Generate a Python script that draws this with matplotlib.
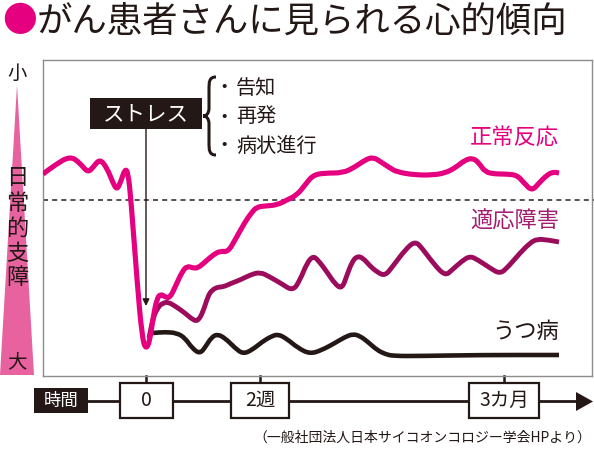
import matplotlib
matplotlib.use("Agg")
import matplotlib.pyplot as plt
from matplotlib.patches import Rectangle, Polygon, PathPatch
from matplotlib.path import Path

plt.rcParams['font.family'] = ['Noto Sans CJK JP', 'DejaVu Sans']

# schematic time position (x) and degree of daily impairment (y, larger = worse)
normal_x = [43, 55, 70, 80, 88, 94, 100, 107, 113, 117, 121, 125, 128, 131, 137, 142, 146,
            150, 153, 157, 161, 165, 170, 176, 182, 187, 193, 198, 205, 213, 220, 228, 235,
            245, 252, 257, 265, 277, 287, 297, 305, 313, 325, 343, 355, 365, 373, 381, 390,
            397, 415, 433, 445, 455, 465, 473, 479, 485, 495, 505, 517, 524, 532, 539, 547,
            553, 559]
normal_y = [174, 165, 156, 163, 173, 166, 159, 168, 183, 190, 181, 169, 172, 200, 280, 337, 350,
            340, 318, 298, 294, 297, 298, 285, 272, 266, 268, 268, 262, 255, 251, 252, 240,
            222, 212, 207, 206, 205, 200, 195, 185, 175, 173, 173, 167, 160, 157, 162, 168,
            172, 175, 175, 173, 168, 160, 158, 163, 172, 174, 174, 175, 183, 191, 183, 175,
            172, 173]

adapt_x = [149, 153, 158, 163, 168, 175, 185, 193, 198, 203, 208, 212, 218, 223, 232, 240,
           250, 260, 270, 282, 293, 300, 307, 313, 318, 327, 335, 342, 347, 352, 357, 363,
           370, 377, 385, 393, 405, 415, 422, 433, 445, 452, 462, 470, 478, 490, 500, 508,
           520, 530, 537, 548, 559]
adapt_y = [338, 318, 307, 303, 302, 306, 313, 320, 321, 312, 296, 290, 287, 287, 283, 280,
           275, 272, 277, 284, 291, 280, 263, 256, 260, 272, 284, 289, 275, 262, 256, 258,
           266, 272, 276, 266, 250, 241, 248, 263, 276, 270, 261, 256, 260, 268, 274, 267,
           253, 243, 239, 240, 242]

depress_x = [153, 165, 177, 185, 192, 200, 206, 211, 217, 225, 235, 243, 252, 262, 270, 278,
             287, 298, 310, 322, 335, 345, 353, 360, 368, 377, 385, 393, 420, 480, 559]
depress_y = [333, 332, 333, 338, 348, 354, 346, 338, 334, 338, 348, 354, 350, 342, 337, 334,
             339, 348, 354, 350, 343, 337, 334, 336, 342, 350, 354, 356, 356, 355, 355]

normal_level = 200
stress_t = 146
tick_pos = [146, 260, 504]
tick_labels = ['0', '2週', '3カ月']
tick_widths = [53, 58, 70]
stress_items = ['告知', '再発', '病状進行']
scale_chars = ['日', '常', '的', '支', '障']

PINK = '#e4007f'
PLUM = '#9b0d5c'
DARK = '#231815'


def smooth_path(xs, ys):
    # quadratic bezier through midpoints, read points act as control points
    pts = list(zip(xs, ys))
    verts = [pts[0], ((pts[0][0] + pts[1][0]) / 2, (pts[0][1] + pts[1][1]) / 2)]
    codes = [Path.MOVETO, Path.LINETO]
    for i in range(1, len(pts) - 1):
        mid = ((pts[i][0] + pts[i + 1][0]) / 2, (pts[i][1] + pts[i + 1][1]) / 2)
        verts += [pts[i], mid]
        codes += [Path.CURVE3, Path.CURVE3]
    verts.append(pts[-1])
    codes.append(Path.LINETO)
    return Path(verts, codes)


fig = plt.figure(figsize=(5.94, 4.49), dpi=100)

# overlay in figure pixels for decorations
deco = fig.add_axes([0, 0, 1, 1])
deco.set_xlim(0, 594)
deco.set_ylim(449, 0)
deco.axis('off')

# main chart box
ax = fig.add_axes([43 / 594, (449 - 376) / 449, (592 - 43) / 594, (376 - 60) / 449])
ax.set_xlim(43, 592)
ax.set_ylim(376, 60)
ax.set_xticks([])
ax.set_yticks([])
for s in ax.spines.values():
    s.set_color('#8c8c8c')
    s.set_linewidth(1.0)
ax.patch.set_alpha(0)

ax.plot([43, 594], [normal_level, normal_level], color='#333333', lw=1.2,
        dashes=(3, 2.5), clip_on=False, zorder=1)
for xs, ys, col, lw, z in [(depress_x, depress_y, DARK, 3.3, 2),
                           (adapt_x, adapt_y, PLUM, 3.5, 3),
                           (normal_x, normal_y, PINK, 3.7, 4)]:
    ax.add_patch(PathPatch(smooth_path(xs, ys), facecolor='none', edgecolor=col,
                           lw=lw, joinstyle='round', capstyle='butt', zorder=z))

ax.text(559, 138, '正常反応', color=PINK, fontsize=16, ha='right', va='center')
ax.text(559, 221, '適応障害', color='#a31d6e', fontsize=16, ha='right', va='center')
ax.text(559, 331, 'うつ病', color=DARK, fontsize=16, ha='right', va='center')

# stress box and arrow
deco.add_patch(Rectangle((90, 98), 112, 31, facecolor=DARK, edgecolor='none'))
deco.text(146, 114, 'ストレス', color='white', fontsize=15.5, ha='center', va='center')
ax.annotate('', xy=(stress_t, 306), xytext=(stress_t, 129),
            arrowprops=dict(arrowstyle='-|>', color=DARK, lw=1.0, mutation_scale=10,
                            shrinkA=0, shrinkB=0), annotation_clip=False)

brace = Path([(216, 77), (209, 77), (209, 82), (209, 90), (209, 108),
              (209, 114), (206, 116), (203, 116),
              (206, 116), (209, 118), (209, 124), (209, 142),
              (209, 150), (209, 155), (216, 155)],
             [Path.MOVETO, Path.CURVE4, Path.CURVE4, Path.CURVE4, Path.LINETO,
              Path.CURVE4, Path.CURVE4, Path.CURVE4,
              Path.CURVE4, Path.CURVE4, Path.CURVE4, Path.LINETO,
              Path.CURVE4, Path.CURVE4, Path.CURVE4])
deco.add_patch(PathPatch(brace, facecolor='none', edgecolor=DARK, lw=2.2))
for i, item in enumerate(stress_items):
    y = 88 + i * 29
    deco.text(224, y, '・', color=DARK, fontsize=14, ha='center', va='center')
    deco.text(236, y, item, color=DARK, fontsize=14.5, ha='left', va='center')

# title
deco.text(2, 22, '●', color=PINK, fontsize=25, ha='left', va='center')
deco.text(37, 22, 'がん患者さんに見られる心的傾向', color=DARK, fontsize=25.5,
          ha='left', va='center')

# left scale triangle
deco.add_patch(Polygon([(17, 85), (0, 375), (34, 375)], closed=True,
                       facecolor='#e8629f', edgecolor='none'))
deco.text(17, 73, '小', color=DARK, fontsize=14, ha='center', va='center')
deco.text(17, 362, '大', color=DARK, fontsize=14, ha='center', va='center')
for i, ch in enumerate(scale_chars):
    deco.text(17, 178 + i * 25, ch, color=DARK, fontsize=16, ha='center', va='center')

# time axis
deco.plot([88, 578], [401, 401], color=DARK, lw=2.0)
deco.add_patch(Polygon([(576, 392), (593, 401.5), (576, 411)], closed=True,
                       facecolor=DARK, edgecolor='none'))
deco.add_patch(Rectangle((34, 388), 54, 25, facecolor=DARK, edgecolor='none'))
deco.text(61, 400.5, '時間', color='white', fontsize=12.5, ha='center', va='center')
for pos, lab, w in zip(tick_pos, tick_labels, tick_widths):
    deco.plot([pos, pos], [376, 383], color=DARK, lw=1.8)
    deco.add_patch(Rectangle((pos - w / 2, 383), w, 35, facecolor='white',
                             edgecolor=DARK, lw=1.6, zorder=3))
    deco.text(pos, 400.5, lab, color=DARK, fontsize=14, ha='center', va='center', zorder=4)

deco.text(591, 438, '（一般社団法人日本サイコオンコロジー学会HPより）', color=DARK,
          fontsize=10, ha='right', va='center')

fig.savefig('out.png', dpi=100)
